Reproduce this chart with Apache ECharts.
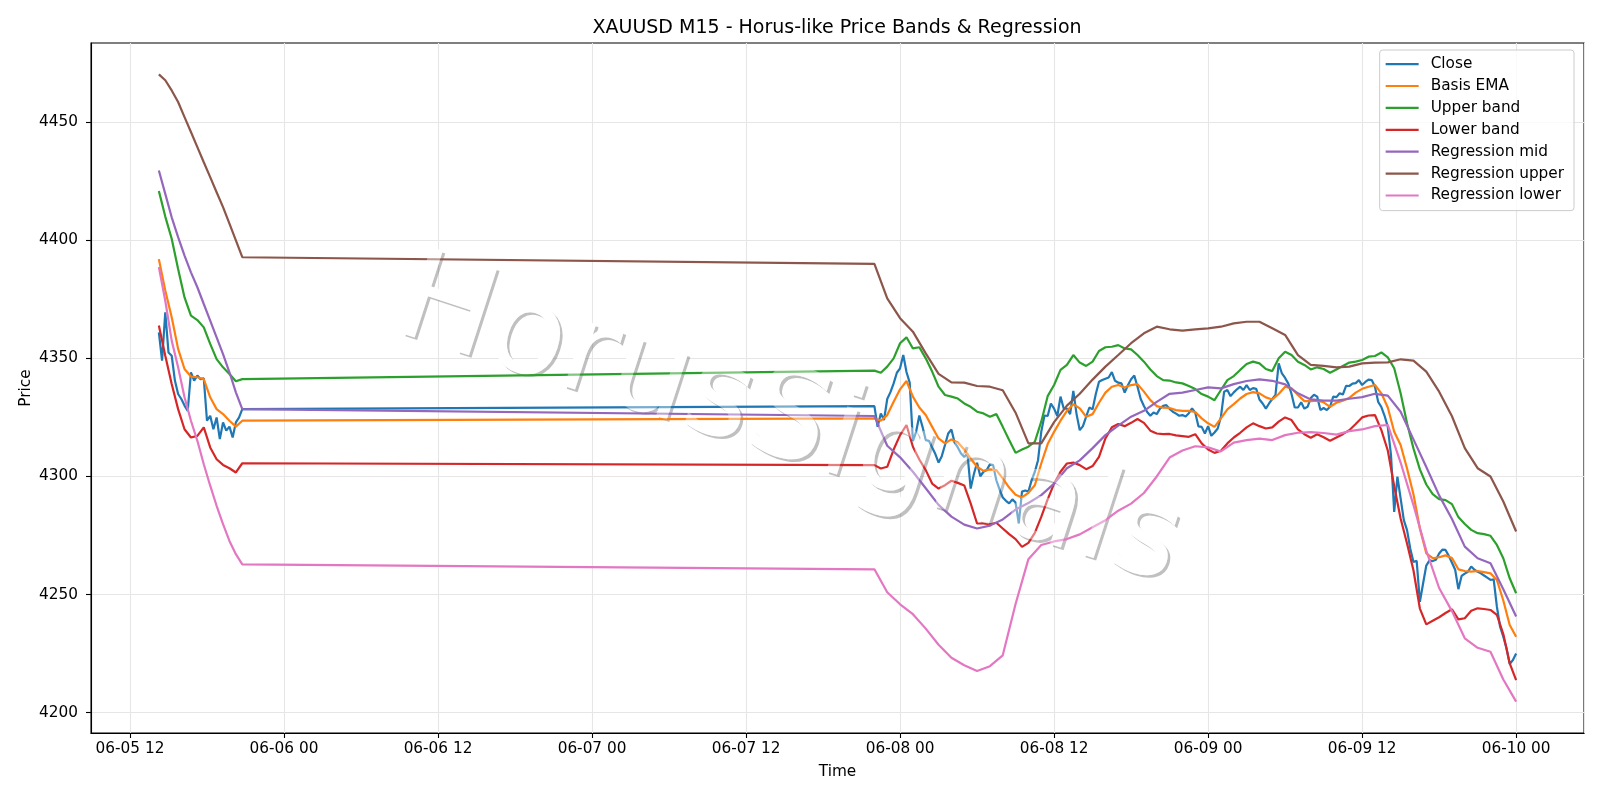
<!DOCTYPE html>
<html lang="en">
<head>
<meta charset="UTF-8">
<title>XAUUSD M15 - Horus-like Price Bands &amp; Regression</title>
<style>
  html, body { margin: 0; padding: 0; background: #fff; }
  #main { width: 1600px; height: 800px; }
</style>
</head>
<body>
<div id="main"></div>
<script src="https://cdn.jsdelivr.net/npm/echarts@6.0.0/dist/echarts.min.js"></script>
<script>
var FONT = '"DejaVu Sans", sans-serif';
var FS = 15.3;
var MIN = 60 * 1000;
var HOUR = 60 * MIN;

// friday session 06-05 14:15 -> 20:45, then from sunday 06-07 22:00 -> 06-10 00:00
var startA = Date.UTC(2026, 5, 5, 14, 15);
var startB = Date.UTC(2026, 5, 7, 22, 0);
var lastBar = Date.UTC(2026, 5, 10, 0, 0);

var names = ['Close', 'Basis EMA', 'Upper band', 'Lower band', 'Regression mid', 'Regression upper', 'Regression lower'];
var colors = ['#1f77b4', '#ff7f0e', '#2ca02c', '#d62728', '#9467bd', '#8c564b', '#e377c2'];

// close, 15 min bars
var closeA = [4361, 4349, 4369.5, 4352.5, 4351.1, 4340.6, 4334.9, 4332.8, 4330, 4327.8, 4344.1, 4340.6, 4342.7,
  4341.2, 4341.5, 4323.6, 4325.7, 4320, 4325, 4315.8, 4322.9, 4319.4, 4321.1, 4316.5, 4322.9, 4325, 4328.5];
var closeB = [
  // 06-07 22:00
  4329.8, 4321.0, 4326.7, 4323.9, 4332.8, 4335.7, 4339.4, 4343.9,
  // 06-08 00:00
  4345.8, 4351.4, 4344.2, 4339.7, 4315.0, 4318.9, 4325.8, 4321.0, 4315.4, 4315.1, 4312.3, 4309.5,
  4305.9, 4308.6, 4313.3, 4318.2, 4319.9, 4314.3, 4312.3, 4309.7, 4308.3, 4309.7, 4294.9, 4301.0,
  // 06-08 06:00
  4305.8, 4300.1, 4302.0, 4302.7, 4305.2, 4304.8, 4298.4, 4294.5, 4291.1, 4289.7, 4288.6, 4290.3,
  4289.0, 4280.1, 4293.6, 4294.1, 4293.6, 4298.4, 4302.0, 4306.9, 4318.9, 4325.8, 4325.6, 4330.9,
  // 06-08 12:00
  4328.7, 4325.6, 4333.8, 4328.8, 4328.7, 4326.4, 4336.2, 4326.4, 4319.6, 4321.3, 4325.3, 4329.2,
  4328.4, 4334.9, 4340.1, 4340.8, 4341.4, 4341.9, 4344.2, 4340.5, 4339.7, 4339.4, 4335.5, 4338.6,
  // 06-08 18:00
  4341.2, 4342.7, 4338.0, 4332.8, 4329.8, 4327.3, 4325.7, 4327.1, 4326.4, 4328.7, 4329.9, 4330.2,
  4328.6, 4327.4, 4326.6, 4325.7, 4326.0, 4325.4, 4326.8, 4328.8, 4327.0, 4321.2, 4321.0, 4318.2,
  // 06-09 00:00
  4321.3, 4317.2, 4318.6, 4320.3, 4325.3, 4335.9, 4336.6, 4334.0, 4335.6, 4336.9, 4338.0, 4336.6,
  4338.7, 4336.6, 4337.4, 4337.1, 4332.6, 4330.9, 4328.7, 4330.9, 4332.8, 4334.5, 4347.9, 4343.6,
  // 06-09 06:00
  4341.7, 4339.3, 4334.9, 4329.2, 4329.2, 4331.4, 4328.7, 4329.5, 4333.2, 4334.6, 4333.8, 4328.1,
  4329.0, 4328.1, 4329.5, 4333.8, 4333.6, 4335.2, 4334.7, 4338.4, 4338.3, 4339.3, 4339.5, 4340.8,
  // 06-09 12:00
  4338.7, 4340.0, 4341.0, 4340.8, 4338.0, 4331.6, 4329.4, 4325.7, 4321.0, 4309.0, 4285.0, 4299.9,
  4290.7, 4281.5, 4277.3, 4269.5, 4263.8, 4264.3, 4246.9, 4254.7, 4262.3, 4264.5, 4264.2, 4264.8,
  // 06-09 18:00
  4267.4, 4269.0, 4268.9, 4266.4, 4263.5, 4260.5, 4252.3, 4257.9, 4258.9, 4259.7, 4261.9, 4260.5,
  4259.7, 4259.0, 4258.1, 4257.2, 4256.2, 4256.5, 4244.9, 4236.4, 4232.2, 4227.3, 4220.6, 4222.3,
  // 06-10 00:00
  4225.1];

// bands, every 30 min
var basisA = [4392, 4378.7, 4367.4, 4354, 4345.5, 4342.3, 4342, 4341.2, 4333.5, 4328.5, 4326.4, 4323.6, 4321.1, 4323.6];
var basisB = [4324.6, 4323.6, 4326.0, 4331.6,
  4336.9, 4340.4, 4333.8, 4329.2, 4326.0, 4321.0, 4316.1, 4314.0, 4315.7, 4314.4, 4311.4, 4307.6,
  4304.1, 4302.4, 4303.0, 4302.7, 4299.2, 4295.3, 4292.3, 4291.1, 4293.1, 4296.3, 4305.5, 4313.7,
  4318.9, 4323.6, 4327.8, 4330.6, 4328.8, 4325.3, 4326.4, 4331.2, 4335.5, 4338.0, 4338.7, 4337.7,
  4338.7, 4339.1, 4335.9, 4332.3, 4329.8, 4329.1, 4329.0, 4328.1, 4327.8, 4327.8, 4327.3, 4324.6,
  4322.5, 4321.0, 4324.6, 4328.4, 4330.6, 4333.0, 4334.9, 4335.7, 4335.2, 4333.5, 4332.6, 4334.9,
  4338.0, 4337.3, 4334.5, 4331.9, 4331.9, 4332.1, 4331.4, 4329.5, 4331.2, 4332.1, 4333.3, 4335.5,
  4337.1, 4338.0, 4338.7, 4335.2, 4329.2, 4318.9, 4313.3, 4303.4, 4292.5, 4278.0, 4267.5, 4265.4,
  4265.8, 4266.6, 4265.5, 4260.7, 4260.0, 4259.7, 4260.0, 4259.5, 4259.0, 4256.2, 4247.5, 4237.1,
  4232.2];

var upperA = [4420.8, 4410, 4400.6, 4387.8, 4375.8, 4368.1, 4366.2, 4363.1, 4356.1, 4349.7, 4346.2, 4343.4, 4340.3, 4341.2];
var upperB = [4344.8, 4343.9, 4346.5, 4350.0,
  4356.4, 4358.9, 4354.2, 4354.7, 4350.0, 4344.4, 4338.0, 4334.5, 4333.8, 4333.0, 4330.9, 4329.5,
  4327.4, 4326.7, 4325.3, 4326.4, 4321.0, 4315.4, 4310.0, 4311.4, 4312.6, 4314.7, 4323.2, 4334.0,
  4338.7, 4345.1, 4347.2, 4351.4, 4348.2, 4346.8, 4348.6, 4353.1, 4354.7, 4354.9, 4355.6, 4354.2,
  4353.8, 4351.4, 4348.6, 4345.3, 4342.5, 4340.8, 4340.6, 4339.8, 4339.4, 4338.3, 4337.0, 4334.9,
  4333.8, 4332.3, 4336.6, 4340.8, 4342.5, 4345.1, 4347.6, 4348.6, 4347.9, 4345.5, 4344.6, 4350.0,
  4352.8, 4351.4, 4348.6, 4347.2, 4345.3, 4346.2, 4345.5, 4343.9, 4345.3, 4346.8, 4348.2, 4348.6,
  4349.3, 4350.7, 4351.0, 4352.5, 4350.4, 4345.8, 4335.2, 4322.5, 4311.9, 4303.0, 4296.6, 4292.5,
  4290.4, 4290.0, 4288.3, 4282.8, 4279.9, 4277.4, 4276.0, 4275.6, 4274.9, 4271.0, 4265.4, 4256.9,
  4250.6];

var lowerA = [4363.9, 4351.1, 4339.1, 4328.5, 4320, 4316.5, 4317.2, 4320.8, 4312.3, 4307.3, 4304.9, 4303.5, 4301.7, 4305.6];
var lowerB = [4304.8, 4303.4, 4304.1, 4311.4,
  4317.5, 4321.8, 4312.6, 4307.2, 4302.7, 4297.0, 4294.9, 4296.3, 4298.2, 4297.3, 4296.2, 4288.6,
  4280.1, 4280.1, 4279.8, 4280.4, 4278.0, 4275.6, 4273.5, 4270.2, 4271.9, 4276.1, 4282.9, 4290.3,
  4297.0, 4302.0, 4305.5, 4305.9, 4304.8, 4303.1, 4304.4, 4308.3, 4316.1, 4320.8, 4322.2, 4321.3,
  4322.7, 4324.3, 4322.7, 4319.4, 4318.2, 4317.9, 4318.0, 4317.4, 4317.1, 4316.8, 4317.9, 4314.0,
  4311.4, 4310.0, 4310.9, 4314.0, 4316.5, 4318.5, 4320.8, 4322.5, 4321.3, 4320.3, 4320.8, 4323.2,
  4325.0, 4323.9, 4319.9, 4317.9, 4316.4, 4317.9, 4316.6, 4315.1, 4316.5, 4317.9, 4319.6, 4322.2,
  4325.0, 4325.8, 4326.0, 4319.6, 4311.0, 4295.9, 4282.2, 4271.6, 4260.3, 4244.1, 4237.4, 4238.9,
  4240.4, 4242.2, 4243.8, 4239.5, 4240.0, 4243.2, 4244.2, 4243.9, 4243.5, 4241.4, 4233.3, 4220.9,
  4213.8];

// regression channel: 30 min on friday, hourly from 06-07 22:00
var regMidA = [4429.5, 4419.6, 4409.7, 4401.3, 4393.5, 4386.4, 4380.1, 4373, 4366, 4358.9, 4351.8, 4344.1, 4335.6, 4328.5];
var regMidB = [4325.6, 4313.0,
  4308.1, 4302.0, 4295.0, 4288.0, 4283.0, 4279.6, 4278.0, 4279.2, 4281.8, 4286.0, 4288.8, 4292.1,
  4297.0, 4303.5, 4306.8, 4312.0, 4317.5, 4321.5, 4325.3, 4327.8, 4331.6, 4335.0, 4335.5, 4336.6,
  4337.7, 4337.3, 4339.1, 4340.4, 4341.1, 4340.5, 4339.0, 4335.2, 4332.6, 4332.1, 4332.1, 4332.9,
  4333.6, 4335.0, 4334.2, 4327.4, 4315.7, 4304.0, 4292.0, 4282.0, 4270.3, 4265.4, 4263.3, 4252.3,
  4240.7];

var regUpperA = [4470.2, 4467.7, 4463.4, 4458.5, 4452.1, 4445.8, 4439.4, 4433, 4426.7, 4420.3, 4414, 4407, 4399.9, 4392.8];
var regUpperB = [4390.0, 4375.4,
  4367.0, 4361.3, 4352.1, 4343.4, 4339.8, 4339.7, 4338.3, 4338.0, 4336.5, 4327.0, 4314.0, 4314.0,
  4323.0, 4330.0, 4335.0, 4341.0, 4346.5, 4351.4, 4356.4, 4360.6, 4363.4, 4362.3, 4361.7, 4362.3,
  4362.7, 4363.4, 4364.8, 4365.5, 4365.5, 4362.7, 4359.9, 4351.4, 4347.2, 4346.8, 4346.2, 4346.5,
  4347.9, 4348.2, 4348.3, 4349.6, 4349.0, 4344.4, 4335.9, 4325.5, 4312.0, 4303.5, 4300.0, 4289.4,
  4276.7];

var regLowerA = [4388.6, 4374.4, 4357.5, 4346.2, 4333.5, 4323.6, 4315.1, 4305.2, 4296.1, 4287.6, 4279.8, 4272.7, 4267.1, 4262.8];
var regLowerB = [4260.7, 4251.0,
  4245.9, 4241.7, 4235.6, 4228.8, 4223.3, 4220.1, 4217.7, 4219.7, 4224.3, 4246.0, 4265.0, 4271.0,
  4272.5, 4273.5, 4275.5, 4278.5, 4281.5, 4285.5, 4288.5, 4293.0, 4300.0, 4308.0, 4311.0, 4312.8,
  4312.3, 4310.6, 4314.3, 4315.4, 4316.0, 4315.4, 4317.5, 4318.5, 4318.8, 4318.4, 4317.7, 4319.2,
  4319.9, 4321.3, 4321.8, 4305.9, 4287.9, 4268.6, 4252.8, 4243.0, 4231.5, 4227.5, 4225.8, 4214.1,
  4204.7];

var xTickLabels = ['06-05 12', '06-06 00', '06-06 12', '06-07 00', '06-07 12', '06-08 00', '06-08 12', '06-09 00', '06-09 12', '06-10 00'];
var xTicks = xTickLabels.map(function (s, i) { return Date.UTC(2026, 5, 5, 12) + i * 12 * HOUR; });
var yTicks = [4200, 4250, 4300, 4350, 4400, 4450];

function bars(start, stepMin, values) {
    return values.map(function (v, i) { return [start + i * stepMin * MIN, v]; });
}

var seriesData = [
    bars(startA, 15, closeA).concat(bars(startB, 15, closeB)),
    bars(startA, 30, basisA).concat(bars(startB, 30, basisB)),
    bars(startA, 30, upperA).concat(bars(startB, 30, upperB)),
    bars(startA, 30, lowerA).concat(bars(startB, 30, lowerB)),
    bars(startA, 30, regMidA).concat(bars(startB, 60, regMidB)),
    bars(startA, 30, regUpperA).concat(bars(startB, 60, regUpperB)),
    bars(startA, 30, regLowerA).concat(bars(startB, 60, regLowerB))
];

// matplotlib style 5% margins
var xPad = (lastBar - startA) * 0.05;
var yLo = 4204.7, yHi = 4470.2, yPad = (yHi - yLo) * 0.05;

var dom = document.getElementById('main');
var myChart = echarts.init(dom, null, { renderer: 'canvas' });

var axisBlack = { color: '#000', width: 1.1 };
var gridLine = { color: '#e6e6e6', width: 1.1 };

// watermark: grey shadow + solid white under the lines, light white veil over them
var wm = { x: 789, y: 425, rotation: -18 * Math.PI / 180, text: 'HorusSignals', size: 125 };
function wmText(dx, dy, fill, z) {
    return {
        type: 'text', x: wm.x + dx, y: wm.y + dy, rotation: wm.rotation, z: z, silent: true,
        style: {
            text: wm.text, fill: fill, fontSize: wm.size, fontFamily: FONT,
            align: 'center', verticalAlign: 'middle'
        }
    };
}

var option = {
    animation: false,
    useUTC: true,
    backgroundColor: '#fff',
    textStyle: { fontFamily: FONT },
    grid: { left: 91, right: 16, top: 43, bottom: 67, show: true, borderColor: '#000', borderWidth: 1.1 },
    legend: {
        orient: 'vertical',
        right: 26,
        top: 50,
        padding: [6.6, 10, 7.6, 6],
        icon: 'rect',
        itemWidth: 33,
        itemHeight: 2.2,
        itemGap: 6.9,
        backgroundColor: 'rgba(255,255,255,0.8)',
        borderColor: '#cccccc',
        borderWidth: 1,
        borderRadius: 3,
        textStyle: { fontSize: FS, color: '#000', fontFamily: FONT, lineHeight: 14, padding: [0, 0, 0, 7] },
        data: names
    },
    xAxis: {
        type: 'time',
        min: startA - xPad,
        max: lastBar + xPad,
        // 13h makes the time scale settle on 12h steps
        minInterval: 13 * HOUR,
        maxInterval: 13 * HOUR,
        name: 'Time',
        nameLocation: 'middle',
        nameGap: 31.5,
        nameMoveOverlap: false,
        nameTextStyle: { fontSize: FS, color: '#000', fontFamily: FONT },
        axisLine: { show: true, onZero: false, lineStyle: axisBlack },
        axisTick: { show: true, length: 5, lineStyle: axisBlack },
        axisLabel: {
            margin: 9,
            fontSize: FS,
            color: '#000',
            fontFamily: FONT,
            showMinLabel: false,
            showMaxLabel: false,
            formatter: function (v) {
                var i = xTicks.indexOf(+v);
                return i >= 0 ? xTickLabels[i] : '';
            }
        },
        splitLine: { show: true, lineStyle: gridLine }
    },
    yAxis: {
        type: 'value',
        min: yLo - yPad,
        max: yHi + yPad,
        name: 'Price',
        nameLocation: 'middle',
        nameGap: 57,
        nameMoveOverlap: false,
        nameTextStyle: { fontSize: FS, color: '#000', fontFamily: FONT },
        axisLine: { show: true, lineStyle: axisBlack },
        axisTick: { show: true, length: 5, customValues: yTicks, lineStyle: axisBlack },
        axisLabel: {
            customValues: yTicks,
            margin: 13,
            padding: [7, 0, 0, 0],
            fontSize: FS,
            color: '#000',
            fontFamily: FONT,
            formatter: function (v) { return String(Math.round(v)); }
        },
        splitLine: { show: true, lineStyle: gridLine }
    },
    graphic: [
        {
            type: 'text', x: 837, y: 28.5,
            style: {
                text: 'XAUUSD M15 - Horus-like Price Bands & Regression',
                fill: '#000', fontSize: 19, fontFamily: FONT,
                align: 'center', verticalAlign: 'middle'
            }
        },
        wmText(2.6, 2.6, 'rgba(60,60,60,0.32)', 1),
        wmText(0, 0, '#ffffff', 1),
        wmText(0, 0, 'rgba(255,255,255,0.4)', 10)
    ],
    series: names.map(function (n, k) {
        return {
            name: n,
            type: 'line',
            z: 2,
            data: seriesData[k],
            symbol: 'none',
            showSymbol: false,
            color: colors[k],
            lineStyle: { width: 2.2, color: colors[k] },
            emphasis: { disabled: true }
        };
    })
};

myChart.setOption(option);
window.addEventListener('resize', myChart.resize);
</script>
</body>
</html>
